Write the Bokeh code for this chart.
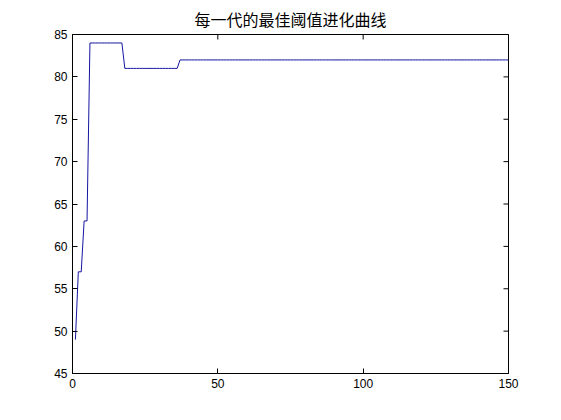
import math
from bokeh.plotting import figure
from bokeh.models import FixedTicker, Range1d
from bokeh.embed import file_html
from bokeh.resources import INLINE

title_text = "每一代的最佳阈值进化曲线"
x_ticks = [0, 50, 100, 150]
y_ticks = [45, 50, 55, 60, 65, 70, 75, 80, 85]

generations = list(range(1, 151))
best_threshold = [
    49, 57, 57, 63, 63,
    84, 84, 84, 84, 84, 84, 84, 84, 84, 84, 84, 84,
    81, 81, 81, 81, 81, 81, 81, 81, 81, 81, 81, 81, 81, 81, 81, 81, 81, 81, 81,
    82, 82, 82, 82, 82, 82, 82, 82, 82, 82, 82, 82, 82, 82, 82, 82, 82, 82, 82, 82,
    82, 82, 82, 82, 82, 82, 82, 82, 82, 82, 82, 82, 82, 82, 82, 82, 82, 82, 82, 82,
    82, 82, 82, 82, 82, 82, 82, 82, 82, 82, 82, 82, 82, 82, 82, 82, 82, 82, 82, 82,
    82, 82, 82, 82, 82, 82, 82, 82, 82, 82, 82, 82, 82, 82, 82, 82, 82, 82, 82, 82,
    82, 82, 82, 82, 82, 82, 82, 82, 82, 82, 82, 82, 82, 82, 82, 82, 82, 82, 82, 82,
    82, 82, 82, 82, 82, 82, 82, 82, 82, 82, 82, 82, 82, 82,
]

x_min, x_max = x_ticks[0], x_ticks[-1]
y_min, y_max = y_ticks[0], y_ticks[-1]

p = figure(width=545, height=404, output_backend="svg", toolbar_location=None,
           x_range=Range1d(x_min, x_max), y_range=Range1d(y_min, y_max),
           min_border_left=72, min_border_right=37, min_border_top=30, min_border_bottom=31,
           title=title_text)
p.background_fill_color = "white"
p.border_fill_color = "white"
p.outline_line_color = "black"
p.outline_line_width = 1
p.grid.visible = False

p.title.align = "center"
p.title.text_font = "Noto Sans CJK SC"
p.title.text_font_size = "16px"
p.title.text_font_style = "normal"
p.title.text_color = "black"
p.title.offset = 0
p.title.standoff = 8

p.line(generations, best_threshold, line_color="#1515a0", line_width=1)

# MATLAB-style inward ticks on the top and right edges of the box
p.scatter(x_ticks, [y_max] * len(x_ticks), marker="dash", size=10,
          angle=math.pi / 2, line_color="black", line_width=1)
p.scatter([x_max] * len(y_ticks), y_ticks, marker="dash", size=10,
          line_color="black", line_width=1)

for ax in (p.xaxis[0], p.yaxis[0]):
    ax.axis_line_color = "black"
    ax.major_tick_line_color = "black"
    ax.major_tick_in = 5
    ax.major_tick_out = 0
    ax.minor_tick_line_color = None
    ax.major_label_text_font = "Liberation Sans"
    ax.major_label_text_font_size = "12px"
    ax.major_label_text_color = "black"
    ax.major_label_standoff = 5
p.xaxis.ticker = FixedTicker(ticks=x_ticks)
p.yaxis.ticker = FixedTicker(ticks=y_ticks)

open("out.html", "w").write(file_html(p, INLINE))
